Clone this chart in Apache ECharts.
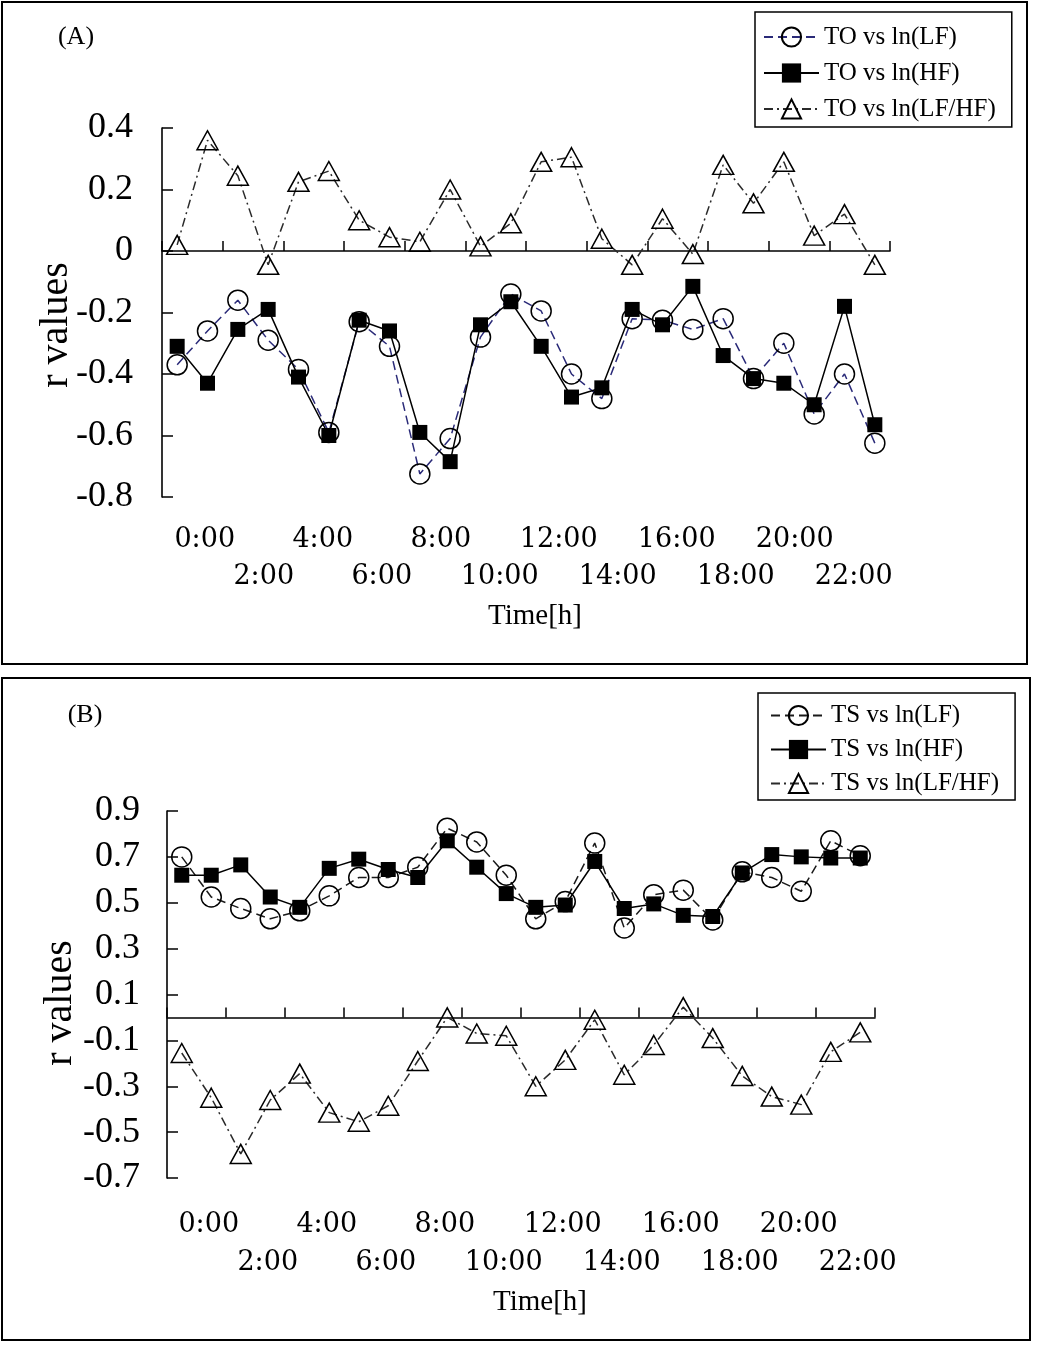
<!DOCTYPE html>
<html>
<head>
<meta charset="utf-8">
<script src="https://cdn.jsdelivr.net/npm/echarts@6/dist/echarts.min.js"></script>
<style>
html,body{margin:0;padding:0;background:#fff;}
#c{width:1043px;height:1350px;}
</style>
</head>
<body>
<div id="c"></div>
<script>
// ---------- data ----------
const hours = ['0:00','1:00','2:00','3:00','4:00','5:00','6:00','7:00','8:00','9:00','10:00','11:00',
               '12:00','13:00','14:00','15:00','16:00','17:00','18:00','19:00','20:00','21:00','22:00','23:00'];

const namesA = ['TO vs ln(LF)', 'TO vs ln(HF)', 'TO vs ln(LF/HF)'];
const namesB = ['TS vs ln(LF)', 'TS vs ln(HF)', 'TS vs ln(LF/HF)'];

const toLF    = [-0.37, -0.26, -0.16, -0.29, -0.385, -0.59, -0.23, -0.31, -0.725, -0.61, -0.28, -0.14,
                 -0.195, -0.40, -0.48, -0.22, -0.225, -0.255, -0.22, -0.415, -0.30, -0.53, -0.40, -0.625];
const toHF    = [-0.31, -0.43, -0.255, -0.19, -0.41, -0.60, -0.225, -0.26, -0.59, -0.685, -0.24, -0.165,
                 -0.31, -0.475, -0.445, -0.19, -0.24, -0.115, -0.34, -0.415, -0.43, -0.50, -0.18, -0.565];
const toRatio = [0.02, 0.36, 0.245, -0.045, 0.225, 0.26, 0.10, 0.045, 0.03, 0.20, 0.015, 0.09,
                 0.29, 0.305, 0.04, -0.045, 0.105, -0.01, 0.28, 0.155, 0.29, 0.05, 0.12, -0.045];

const tsLF    = [0.70, 0.525, 0.475, 0.43, 0.465, 0.53, 0.61, 0.61, 0.655, 0.825, 0.765, 0.62,
                 0.43, 0.505, 0.76, 0.39, 0.535, 0.555, 0.425, 0.635, 0.61, 0.55, 0.77, 0.705];
const tsHF    = [0.62, 0.62, 0.665, 0.525, 0.48, 0.65, 0.69, 0.645, 0.61, 0.77, 0.655, 0.54,
                 0.48, 0.49, 0.68, 0.475, 0.495, 0.445, 0.44, 0.63, 0.71, 0.70, 0.695, 0.695];
const tsRatio = [-0.155, -0.35, -0.595, -0.36, -0.245, -0.415, -0.455, -0.385, -0.19, 0.0, -0.07, -0.08,
                 -0.30, -0.185, -0.01, -0.25, -0.12, 0.045, -0.09, -0.255, -0.345, -0.38, -0.15, -0.065];

const yRangeA = [-0.8, 0.4];
const yRangeB = [-0.7, 0.9];
const yStep = 0.2;

// ---------- layout / style ----------
const SERIF = '"Liberation Serif", "Times New Roman", serif';
const LABELF = '"DejaVu Serif", serif';

function zeroAxis(grid) {
  return {
    gridIndex: grid, type: 'category', data: hours, boundaryGap: true, position: 'bottom',
    axisLine: { show: true, onZero: true, lineStyle: { color: '#000', width: 1.6 } },
    axisTick: { show: true, inside: true, interval: 1, length: 10, lineStyle: { color: '#000', width: 1.5 } },
    axisLabel: { show: false }, splitLine: { show: false }
  };
}
// one staggered label row: row 0 -> 0:00, 4:00, 8:00 ... ; row 1 -> 2:00, 6:00, 10:00 ...
function labelAxis(grid, row, margin) {
  return {
    gridIndex: grid, type: 'category', data: hours, boundaryGap: true, position: 'bottom',
    axisLine: { show: false, onZero: false }, axisTick: { show: false }, splitLine: { show: false },
    axisLabel: { show: true, interval: (i) => i % 4 === row * 2, hideOverlap: false,
                 margin: margin, fontSize: 27, fontFamily: LABELF, color: '#000' }
  };
}
function valAxis(grid, range, margin) {
  return {
    gridIndex: grid, type: 'value', min: range[0], max: range[1], interval: yStep,
    axisLine: { show: true, onZero: false, lineStyle: { color: '#000', width: 1.6 } },
    axisTick: { show: true, inside: true, length: 11, lineStyle: { color: '#000', width: 1.5 } },
    axisLabel: { fontSize: 36, fontFamily: SERIF, color: '#000', margin: margin },
    splitLine: { show: false }
  };
}
function hiddenY(grid) {
  return { gridIndex: grid, type: 'value', show: false, min: 0, max: 1, splitLine: { show: false } };
}

function seriesSet(names, lf, hf, ratio, xi, yi, lfColor) {
  return [
    { name: names[2], type: 'line', xAxisIndex: xi, yAxisIndex: yi, data: ratio,
      symbol: 'triangle', symbolSize: [21, 19], z: 2, showAllSymbol: true,
      lineStyle: { color: '#2a2a2a', width: 1.5, type: [9, 4, 2, 4] },
      itemStyle: { color: 'rgba(255,255,255,0)', borderColor: '#000', borderWidth: 1.5 } },
    { name: names[0], type: 'line', xAxisIndex: xi, yAxisIndex: yi, data: lf,
      symbol: 'circle', symbolSize: 20, z: 3, showAllSymbol: true,
      lineStyle: { color: lfColor, width: 1.5, type: [9, 5] },
      itemStyle: { color: 'rgba(255,255,255,0)', borderColor: '#000', borderWidth: 1.5 } },
    { name: names[1], type: 'line', xAxisIndex: xi, yAxisIndex: yi, data: hf,
      symbol: 'rect', symbolSize: 15, z: 4, showAllSymbol: true,
      lineStyle: { color: '#000', width: 1.5, type: 'solid' },
      itemStyle: { color: '#000', borderColor: '#000', borderWidth: 0 } }
  ];
}

function legendFor(names, left, top, padding, lh, gap) {
  return {
    data: names, orient: 'vertical', left: left, top: top, padding: padding,
    itemGap: gap, itemWidth: 55, itemHeight: 24, selectedMode: false,
    borderColor: '#000', borderWidth: 1.5, borderRadius: 0, backgroundColor: '#fff',
    textStyle: { fontFamily: SERIF, fontSize: 25, color: '#000', lineHeight: lh }
  };
}

function txt(text, x, y, size, rot) {
  return { type: 'text', x: x, y: y, rotation: rot || 0, z: 10,
           style: { text: text, font: size + 'px ' + SERIF, fill: '#000', align: 'center', verticalAlign: 'middle' } };
}

const chart = echarts.init(document.getElementById('c'), null, { renderer: 'canvas' });
chart.setOption({
  animation: false,
  backgroundColor: '#fff',
  grid: [
    { left: 162, top: 128, width: 728, height: 369, containLabel: false },   // plot A
    { left: 167, top: 811, width: 708, height: 367, containLabel: false },   // plot B
    { left: 190, top: 128, width: 708, height: 369, containLabel: false },   // staggered time labels A
    { left: 194, top: 811, width: 708, height: 367, containLabel: false }    // staggered time labels B
  ],
  xAxis: [
    zeroAxis(0),
    zeroAxis(1),
    labelAxis(2, 0, 29),
    labelAxis(2, 1, 66),
    labelAxis(3, 0, 33),
    labelAxis(3, 1, 71)
  ],
  yAxis: [ valAxis(0, yRangeA, 29), valAxis(1, yRangeB, 27), hiddenY(2), hiddenY(3) ],
  legend: [
    legendFor(namesA, 755, 12, [10, 16, 3, 8], 30, 6),
    legendFor(namesB, 758, 693, [8, 16, 2, 12], 29, 5)
  ],
  series: [].concat(
    seriesSet(namesA, toLF, toHF, toRatio, 0, 0, '#2a2a78'),
    seriesSet(namesB, tsLF, tsHF, tsRatio, 1, 1, '#1a1a1a')
  ),
  graphic: [
    { type: 'rect', shape: { x: 2, y: 2, width: 1025, height: 662 }, style: { fill: 'none', stroke: '#000', lineWidth: 2 }, z: 0 },
    { type: 'rect', shape: { x: 2, y: 678, width: 1028, height: 662 }, style: { fill: 'none', stroke: '#000', lineWidth: 2 }, z: 0 },
    txt('(A)', 76, 37, 26),
    txt('(B)', 85, 715, 26),
    txt('r values', 56, 325, 40, Math.PI / 2),
    txt('r values', 60, 1003, 40, Math.PI / 2),
    txt('Time[h]', 535, 616, 29),
    txt('Time[h]', 540, 1302, 29)
  ]
});
</script>
</body>
</html>
